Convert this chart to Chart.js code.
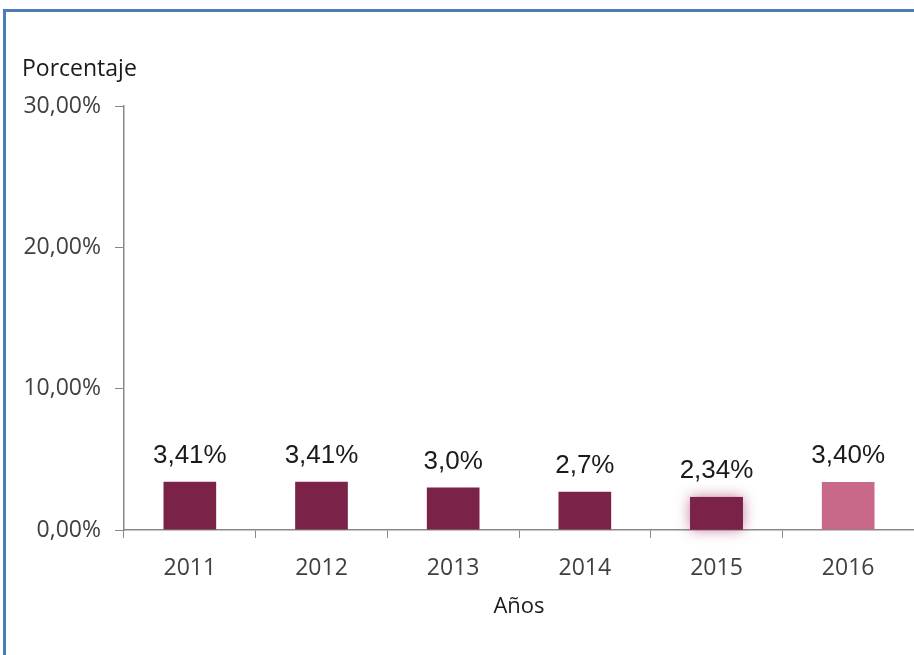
<!DOCTYPE html>
<html>
<head>
<meta charset="utf-8">
<script src="https://cdn.jsdelivr.net/npm/chart.js@4"></script>
<style>
  body { margin: 0; background: #fff; }
  #wrap { position: relative; width: 914px; height: 655px; overflow: hidden; }
  #frame { position: absolute; left: 3px; top: 9px; width: 1000px; height: 1000px; border: 3px solid #4a7ebb; }
  #myChart { position: absolute; left: 0; top: 0; }
</style>
</head>
<body>
<div id="wrap">
  <div id="frame"></div>
  <canvas id="myChart" width="914" height="655"></canvas>
</div>
<script>
// data
var years = ["2011", "2012", "2013", "2014", "2015", "2016"];
var values = [3.41, 3.41, 3.0, 2.7, 2.34, 3.40];
var valueLabels = ["3,41%", "3,41%", "3,0%", "2,7%", "2,34%", "3,40%"];
var yTicks = [0, 10, 20, 30];
var barColors = ["#7b2249", "#7b2249", "#7b2249", "#7b2249", "#7b2249", "#c9698a"];
var glowIndex = 4; // 2015 bar has a soft glow round it
var yTitle = "Porcentaje";
var xTitle = "Años";

// soft glow behind the 2015 bar
var glowPlugin = {
  id: "glow",
  beforeDatasetsDraw: function (chart) {
    var bar = chart.getDatasetMeta(0).data[glowIndex];
    if (!bar) return;
    var ctx = chart.ctx;
    var w = bar.width;
    ctx.save();
    ctx.shadowColor = "rgba(150, 40, 90, 0.6)";
    ctx.shadowBlur = 14;
    ctx.fillStyle = barColors[glowIndex];
    ctx.fillRect(bar.x - w / 2, bar.y, w, bar.base - bar.y);
    ctx.restore();
  }
};

// value labels above bars + horizontal y title
var labelPlugin = {
  id: "labels",
  afterDatasetsDraw: function (chart) {
    var ctx = chart.ctx;
    ctx.save();
    ctx.font = "26px 'Liberation Sans', Arial, sans-serif";
    ctx.fillStyle = "#1a1a1a";
    ctx.textAlign = "center";
    ctx.textBaseline = "alphabetic";
    chart.getDatasetMeta(0).data.forEach(function (bar, i) {
      ctx.fillText(valueLabels[i], bar.x, bar.y - 19);
    });
    ctx.font = "23px 'Open Sans', sans-serif";
    ctx.textAlign = "left";
    ctx.textBaseline = "middle";
    ctx.fillText(yTitle, 22, 69);
    ctx.restore();
  }
};

var ctx = document.getElementById("myChart").getContext("2d");
var myChart = new Chart(ctx, {
  type: "bar",
  data: {
    labels: years,
    datasets: [
      {
        data: values,
        backgroundColor: barColors,
        borderWidth: 0,
        categoryPercentage: 1,
        barPercentage: 0.4,
      },
    ],
  },
  options: {
    responsive: false,
    animation: false,
    layout: { padding: { left: 0, top: 106, right: 0, bottom: 0 } },
    plugins: {
      legend: { display: false },
      tooltip: { enabled: false },
    },
    scales: {
      x: {
        afterFit: function (s) { s.height = 125; },
        grid: { drawOnChartArea: false, tickLength: 8, tickColor: "#898989", offset: true },
        border: { color: "#898989", width: 1.5 },
        ticks: { color: "#404040", font: { family: "'Open Sans', sans-serif", size: 23 }, padding: 17 },
        title: {
          display: true,
          text: xTitle,
          color: "#1a1a1a",
          font: { family: "'Open Sans', sans-serif", size: 22 },
          padding: { top: 0, bottom: 35 },
        },
      },
      y: {
        min: 0,
        max: 30,
        afterFit: function (s) { s.width = 124; },
        afterBuildTicks: function (s) { s.ticks = yTicks.map(function (v) { return { value: v }; }); },
        grid: { drawOnChartArea: false, tickLength: 9, tickColor: "#898989" },
        border: { color: "#898989", width: 1.5 },
        ticks: {
          color: "#404040",
          font: { family: "'Open Sans', sans-serif", size: 23 },
          padding: 14,
          callback: function (v) { return v.toFixed(2).replace(".", ",") + "%"; },
        },
      },
    },
  },
  plugins: [glowPlugin, labelPlugin],
});
</script>
</body>
</html>
